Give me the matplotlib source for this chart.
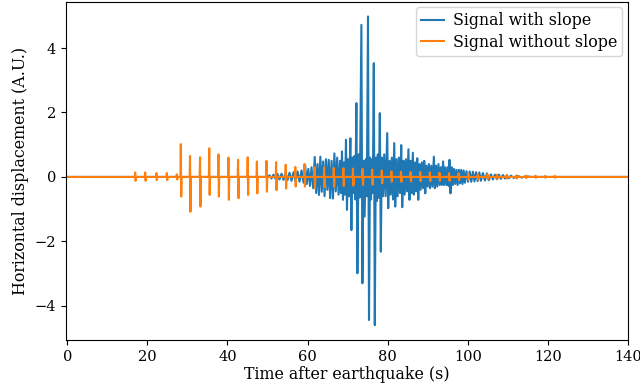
import numpy as np
import matplotlib
matplotlib.use("Agg")
import matplotlib.pyplot as plt

plt.rcParams['font.family'] = ['DejaVu Serif']
plt.rcParams['font.size'] = 10

# Blue signal: successive extremes (time s, displacement A.U.)
blue_times = [
    0.0, 50.0,
    50.5, 51.0, 51.5, 52.0, 52.5, 53.0, 53.5, 54.0, 54.5, 55.0,
    55.5, 56.0, 56.5, 57.0, 57.5, 58.0, 58.5, 59.0, 59.4, 59.8,
    60.2, 60.6, 61.0, 61.4, 61.8, 62.15, 62.5, 62.85, 63.2, 63.55,
    63.9, 64.25, 64.6, 64.95, 65.3, 65.65, 66.0, 66.35, 66.7, 67.05,
    67.4, 67.75, 68.1, 68.35, 68.6, 68.85, 69.1, 69.35, 69.6, 69.85,
    70.1, 70.35, 70.7, 70.95, 71.2, 71.45, 71.7, 71.95, 72.2, 72.45,
    72.75, 73.05, 73.45, 73.7, 74.0, 74.25, 74.55, 74.8, 75.1, 75.35,
    75.6, 75.85, 76.1, 76.3, 76.55, 76.8, 77.05, 77.3, 77.55, 77.8,
    78.05, 78.3, 78.55, 78.85, 79.15, 79.5, 79.9, 80.15, 80.45, 80.75,
    81.05, 81.35, 81.65, 81.9, 82.2, 82.5, 82.8, 83.1, 83.4, 83.65,
    83.95, 84.25, 84.55, 84.85, 85.2, 85.45, 85.75, 86.0, 86.3, 86.55,
    86.85, 87.1, 87.4, 87.65, 87.95, 88.25, 88.55, 88.85, 89.15, 89.4,
    89.7, 90.0, 90.3, 90.6, 90.9, 91.2, 91.55, 91.8, 92.1, 92.4,
    92.7, 93.0, 93.3, 93.55, 93.85, 94.1, 94.4, 94.7, 95.0, 95.25,
    95.45, 95.7, 96.0, 96.3, 96.6, 96.9, 97.2, 97.5, 97.8, 98.1,
    98.4, 98.7, 99.0, 99.3, 99.7, 100.1, 100.5, 100.9, 101.3, 101.7,
    102.1, 102.5, 102.9, 103.3, 103.8, 104.3, 104.8, 105.3, 105.8, 106.3,
    106.8, 107.3, 107.8, 108.3, 108.8, 109.3, 109.8, 110.3, 110.8, 111.5,
    112.5, 113.5, 114.5, 116.0, 140.0,
]
blue_values = [
    0.0, 0.0,
    0.05, -0.05, 0.07, -0.06, 0.09, -0.08, 0.10, -0.09, 0.12, -0.10,
    0.13, -0.12, 0.15, -0.14, 0.17, -0.15, 0.20, -0.18, 0.38, -0.22,
    0.25, -0.28, 0.30, -0.35, 0.62, -0.50, 0.40, -0.56, 0.63, -0.46,
    0.48, -0.60, 0.55, -0.40, 0.53, -0.66, 0.50, -0.67, 0.73, -0.45,
    0.60, -0.55, 0.50, -0.50, 0.79, -0.71, 0.45, -0.55, 1.15, -1.02,
    0.55, -0.60, 1.20, -1.65, 0.60, -0.50, 0.65, -0.70, 2.29, -2.99,
    0.70, -0.64, 4.72, -3.30, 0.50, -1.23, 0.55, -0.60, 4.98, -4.44,
    0.60, -0.70, 0.55, -0.50, 3.53, -4.60, 0.60, -0.75, 0.70, -0.65,
    1.98, -2.32, 0.60, -0.60, 0.70, -0.60, 1.36, -0.97, 0.50, -0.55,
    0.60, -0.70, 1.05, -0.92, 0.55, -0.60, 0.60, -0.50, 0.99, -0.94,
    0.50, -0.55, 0.55, -0.45, 0.86, -0.71, 0.50, -0.50, 0.75, -0.55,
    0.45, -0.45, 0.58, -0.71, 0.40, -0.40, 0.45, -0.35, 0.50, -0.51,
    0.35, -0.30, 0.40, -0.35, 0.35, -0.30, 0.63, -0.35, 0.35, -0.30,
    0.40, -0.25, 0.30, -0.25, 0.48, -0.25, 0.30, -0.25, 0.30, -0.28,
    0.53, -0.51, 0.30, -0.25, 0.25, -0.22, 0.22, -0.25, 0.22, -0.20,
    0.22, -0.22, 0.20, -0.18, 0.18, -0.15, 0.17, -0.15, 0.16, -0.14,
    0.15, -0.13, 0.14, -0.12, 0.12, -0.11, 0.11, -0.10, 0.08, -0.08,
    0.07, -0.07, 0.07, -0.06, 0.06, -0.05, 0.05, -0.04, 0.04, -0.03,
    0.03, -0.02, 0.02, 0.0, 0.0,
]

# Orange signal: repeated pulses (time s, positive peak, negative peak)
orange_times = [17.0, 19.5, 22.3, 24.9, 27.4, 28.4, 30.7, 33.2, 35.5, 37.8,
                40.3, 42.7, 45.1, 47.4, 49.8, 52.2, 54.6, 57.0, 59.3, 61.8,
                64.2, 66.6, 69.0, 71.4, 73.8, 76.2, 78.6, 81.0, 83.4, 85.8,
                88.2, 90.6, 93.0, 95.4, 97.8, 100.2, 102.6, 105.0, 107.4, 109.8,
                112.2, 114.6, 117.0, 119.4, 121.8]
orange_tops = [0.14, 0.14, 0.12, 0.12, 0.08, 1.02, 0.65, 0.61, 0.89, 0.70,
               0.60, 0.53, 0.61, 0.48, 0.50, 0.46, 0.38, 0.31, 0.40, 0.30,
               0.30, 0.28, 0.27, 0.26, 0.25, 0.23, 0.20, 0.17, 0.16, 0.15,
               0.15, 0.14, 0.13, 0.12, 0.11, 0.10, 0.09, 0.08, 0.07, 0.06,
               0.05, 0.04, 0.04, 0.03, 0.03]
orange_bottoms = [-0.12, -0.12, -0.10, -0.10, -0.08, -0.61, -1.08, -0.92, -0.56, -0.61,
                  -0.71, -0.66, -0.56, -0.51, -0.46, -0.41, -0.36, -0.30, -0.30, -0.35,
                  -0.32, -0.30, -0.28, -0.27, -0.25, -0.24, -0.20, -0.15, -0.15, -0.14,
                  -0.13, -0.13, -0.12, -0.12, -0.10, -0.10, -0.08, -0.07, -0.06, -0.05,
                  -0.05, -0.04, -0.03, -0.03, -0.03]

# build the orange polyline from its pulses
ox, oy = [0.0], [0.0]
for t, hi, lo in zip(orange_times, orange_tops, orange_bottoms):
    ox += [t - 0.15, t - 0.05, t + 0.05, t + 0.15]
    oy += [0.0, hi, lo, 0.0]
ox.append(140.0)
oy.append(0.0)

fig = plt.figure(figsize=(6.4, 3.89), dpi=100)
ax = fig.add_axes([0.103, 0.126, 0.878, 0.869])
ax.plot(blue_times, blue_values, color='#1f77b4', lw=1.5, label='Signal with slope')
ax.plot(ox, oy, color='#ff7f0e', lw=1.5, label='Signal without slope')
ax.set_xlim(-0.35, 140)
ax.set_ylim(-5.06, 5.43)
ax.set_xticks([0, 20, 40, 60, 80, 100, 120, 140])
ax.set_yticks([-4, -2, 0, 2, 4])
ax.tick_params(labelsize=10.5)
ax.set_xlabel('Time after earthquake (s)', fontsize=11.4, labelpad=2)
ax.set_ylabel('Horizontal displacement (A.U.)', fontsize=11.4)
ax.legend(loc='upper right', fontsize=11.4, borderpad=0.3, labelspacing=0.3,
          handlelength=1.5, handletextpad=0.55, borderaxespad=0.35)
fig.savefig('out.png', dpi=100)
